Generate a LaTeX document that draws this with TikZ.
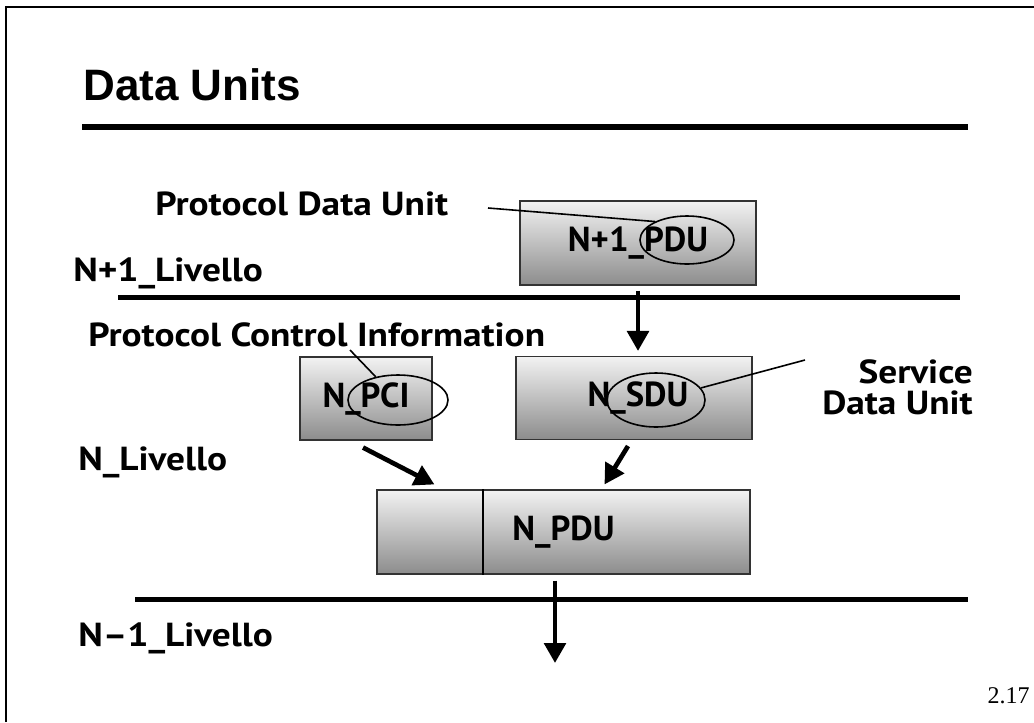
\documentclass[tikz,border=0pt]{standalone}
\usepackage{fontspec}
\setmainfont{PT Sans}
\newfontfamily\titlefont{Liberation Sans}
\newfontfamily\numfont{Liberation Serif}
\newfontfamily\labfont[FakeStretch=1.12]{PT Sans}
\usetikzlibrary{arrows.meta, shapes.geometric, calc}

\begin{document}
\begin{tikzpicture}[
    x=0.75pt, y=-0.75pt,
    unitbox/.style={draw=black!80, line width=0.8pt, top color=black!5, bottom color=black!45, minimum height=83*0.75pt, inner sep=0pt, font=\bfseries\fontsize{26}{30}\selectfont},
    oval/.style={draw, ellipse, line width=1.2pt, inner sep=0pt},
    lab/.style={font=\labfont\bfseries\fontsize{25}{30}\selectfont, inner sep=0pt},
    layer/.style={line width=3.75pt},
    lead/.style={line width=1.2pt},
    arr/.style={-{Triangle[length=15pt, width=16pt]}, line width=3.5pt}
  ]
  \useasboundingbox (0,0) rectangle (1034,722);
  % frame and title
  \draw[line width=1.6pt] (6,722) -- (6,7) -- (1034,7);
  \node[anchor=base west, inner sep=0pt, font=\titlefont\bfseries\fontsize{33}{38}\selectfont] (title) at (83,100) {Data Units};
  \draw[line width=4.5pt] (82,127) -- (968,127);

  % layers
  \node[lab, anchor=west] (uplab) at (73,273) {N+1\_Livello};
  \node[lab, anchor=west] (midlab) at (78,462) {N\_Livello};
  \node[lab, anchor=west] (lowlab) at (78,638) {N\textendash1\_Livello};
  \draw[layer] (118,297) -- (960,297);
  \draw[layer] (135,599) -- (968,599);

  % data units
  \node[unitbox, minimum width=236*0.75pt, minimum height=84*0.75pt] (pdu1) at (638,243) {N+1\_PDU};
  \node[unitbox, minimum width=132*0.75pt] (pci) at (366,398.5) {N\_PCI};
  \node[unitbox, minimum width=236*0.75pt, text width=236*0.75pt, align=center] (sdu) at (634,398) {\hspace*{6pt}N\_SDU};
  \node[unitbox, minimum width=373*0.75pt, minimum height=84*0.75pt] (npdu) at (563.5,532) {N\_PDU};
  \coordinate (split) at (483,0);
  \draw[line width=0.8pt] (npdu.north -| split) -- (npdu.south -| split);

  \node[oval, minimum width=94*0.75pt, minimum height=48*0.75pt] (pduov) at (687,240) {};
  \node[oval, minimum width=100*0.75pt, minimum height=50*0.75pt] (pciov) at (398,400) {};
  \node[oval, minimum width=98*0.75pt, minimum height=54*0.75pt] (sduov) at (656,400) {};

  % names
  \node[lab, anchor=west] (pdulab) at (155,204) {Protocol Data Unit};
  \node[lab, anchor=west] (pcilab) at (88,335) {Protocol Control Information};
  \node[lab, anchor=east, align=right, font=\labfont\bfseries\fontsize{25}{23}\selectfont] (sdulab) at (973,387) {Service\\Data Unit};
  \coordinate (pdutick) at (488,208);
  \coordinate (pcitick) at (350,350);
  \coordinate (sdutick) at (805,360);
  \draw[lead] (pdutick) -- (pduov.150);
  \draw[lead] (pcitick) -- (pciov);
  \draw[lead] (sdutick) -- (sduov);

  % flow
  \draw[arr] ($(pdu1.south)+(0,5)$) -- ($(sdu.north -| pdu1.south)+(0,-5)$);
  \draw[arr] ($(pci.south)+(-3,7)$) -- ($(npdu.north west)+(58,-5)$);
  \draw[arr] ($(sdu.south)+(-6,6)$) -- ($(npdu.north west)+(228,-5)$);
  \coordinate (outtip) at (555,663);
  \draw[arr] ($(npdu.south)+(-8.5,6)$) -- (outtip);

  \node[anchor=base east, inner sep=0pt, font=\numfont\fontsize{18}{22}\selectfont] (pagenum) at (1030,703) {2.17};
\end{tikzpicture}
\end{document}
